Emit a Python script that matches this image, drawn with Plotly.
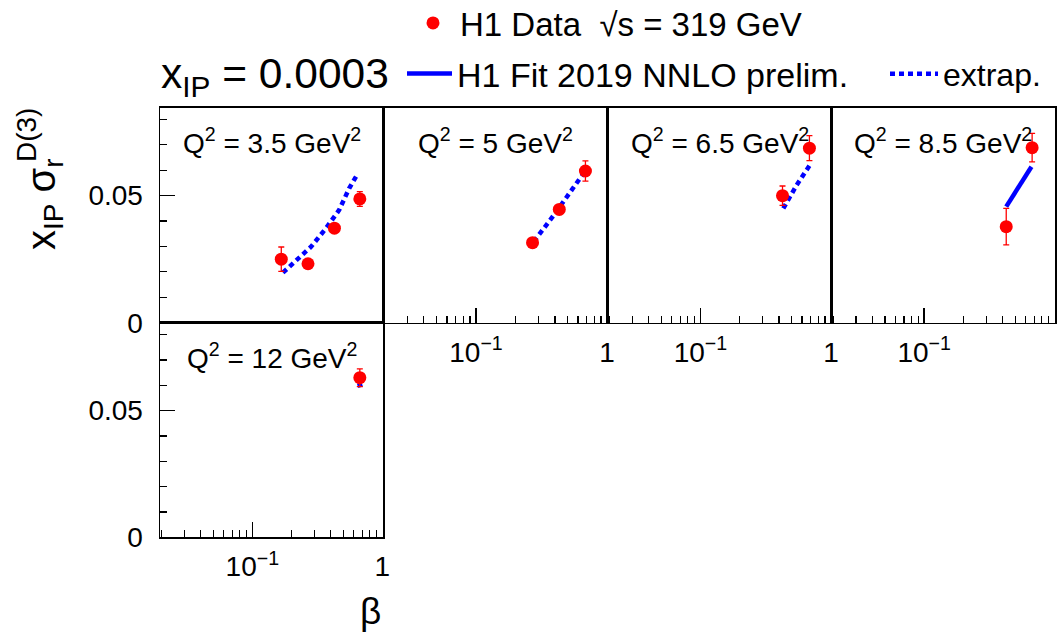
import plotly.graph_objects as go

# ---------------- data ----------------
q2_labels = ["Q<sup>2</sup> = 3.5 GeV<sup>2</sup>", "Q<sup>2</sup> = 5 GeV<sup>2</sup>",
             "Q<sup>2</sup> = 6.5 GeV<sup>2</sup>", "Q<sup>2</sup> = 8.5 GeV<sup>2</sup>",
             "Q<sup>2</sup> = 12 GeV<sup>2</sup>"]

# H1 data points (beta, x_IP sigma_r^D(3), total error)
beta_1 = [0.167, 0.268, 0.428, 0.671]
sig_1 = [0.0250, 0.0232, 0.0372, 0.0487]
err_1 = [0.0048, 0.0010, 0.0012, 0.0029]

beta_2 = [0.270, 0.432, 0.684]
sig_2 = [0.0315, 0.0446, 0.0597]
err_2 = [0.0010, 0.0013, 0.0040]

beta_3 = [0.425, 0.683]
sig_3 = [0.0500, 0.0687]
err_3 = [0.0038, 0.0049]

beta_4 = [0.427, 0.675]
sig_4 = [0.0378, 0.0689]
err_4 = [0.0072, 0.0056]

beta_5 = [0.671]
sig_5 = [0.0630]
err_5 = [0.0035]

# H1 Fit 2019 NNLO prelim. curves (solid = fit region, dashed = extrapolation)
fit_beta_1 = [0.172, 0.205, 0.244, 0.283, 0.369, 0.466, 0.556, 0.632]
fit_sig_1 = [0.0197, 0.0234, 0.0267, 0.0299, 0.0372, 0.0444, 0.0529, 0.0578]
fit_beta_2 = [0.276, 0.393, 0.648]
fit_sig_2 = [0.0319, 0.0424, 0.0581]
fit_beta_3 = [0.431, 0.546, 0.683]
fit_sig_3 = [0.0450, 0.0542, 0.0618]
fit_beta_4 = [0.427, 0.667]
fit_sig_4 = [0.0457, 0.0614]
fit_beta_5 = [0.645, 0.700]
fit_sig_5 = [0.0598, 0.0604]

x_major = [0.1, 1]
x_major_text = ["10<sup>\u22121</sup>", "1"]
x_minor = [0.02, 0.03, 0.04, 0.05, 0.06, 0.07, 0.08, 0.09,
           0.2, 0.3, 0.4, 0.5, 0.6, 0.7, 0.8, 0.9]
y_major = [0, 0.05]
y_major_text = ["0", "0.05"]
y_minor = [0.01, 0.02, 0.03, 0.04, 0.06, 0.07, 0.08]

# ---------------- layout geometry ----------------
W, H = 1062, 635
def px_x(v):
    return v / W
def px_y(v):
    return 1 - v / H

col_edges = [160, 383, 607.7, 831.7, 1055]
row_top = [107.5, 322.7]
row_bot = [322.7, 537.3]

FONT = "Liberation Sans, Arial, Helvetica, sans-serif"
RED = "#ff0000"
BLUE = "#0000ff"

fig = go.Figure()

panels = [
    (beta_1, sig_1, err_1, fit_beta_1, fit_sig_1, "dash"),
    (beta_2, sig_2, err_2, fit_beta_2, fit_sig_2, "dash"),
    (beta_3, sig_3, err_3, fit_beta_3, fit_sig_3, "dash"),
    (beta_4, sig_4, err_4, fit_beta_4, fit_sig_4, "solid"),
    (beta_5, sig_5, err_5, fit_beta_5, fit_sig_5, "dash"),
]

for i, (bx, by, be, fx, fy, style) in enumerate(panels):
    n = i + 1
    xa = "x" if n == 1 else f"x{n}"
    ya = "y" if n == 1 else f"y{n}"
    if style == "solid":
        name, show, leg = "H1 Fit 2019 NNLO prelim.", True, "legend2"
        dash = "solid"
    else:
        name, show, leg = "extrap.", (n == 1), "legend3"
        dash = "5px,4px"
    fig.add_trace(go.Scatter(
        x=fx, y=fy, mode="lines", xaxis=xa, yaxis=ya,
        line=dict(color=BLUE, width=4.5, dash=dash),
        name=name, showlegend=show, legend=leg,
        hoverinfo="skip"))
    fig.add_trace(go.Scatter(
        x=bx, y=by, mode="markers", xaxis=xa, yaxis=ya,
        marker=dict(color=RED, size=13, symbol="circle"),
        error_y=dict(type="data", array=be, visible=True, color=RED,
                     thickness=1.3, width=3),
        name="H1 Data  \u221As = 319 GeV", showlegend=(n == 1), legend="legend",
        hoverinfo="skip"))

layout = dict(
    width=W, height=H,
    margin=dict(l=0, r=0, t=0, b=0, autoexpand=False),
    template="none",
    paper_bgcolor="white", plot_bgcolor="white",
    font=dict(family=FONT, color="black", size=28),
    showlegend=True,
)

for i in range(5):
    n = i + 1
    if n <= 4:
        x0, x1 = col_edges[i], col_edges[i + 1]
        yt, yb = row_top[0], row_bot[0]
    else:
        x0, x1 = col_edges[0], col_edges[1]
        yt, yb = row_top[1], row_bot[1]
    show_x = n != 1
    show_y = n in (1, 5)
    xa = dict(
        domain=[px_x(x0), px_x(x1)], type="log", range=[-1.71, 0.005],
        anchor="y" if n == 1 else f"y{n}",
        showline=True, mirror=True, linecolor="black", linewidth=1.5,
        showgrid=False, zeroline=False, automargin=False,
        ticks="inside" if show_x else "", ticklen=15, tickwidth=1.3, tickcolor="black",
        tickmode="array", tickvals=x_major, ticktext=x_major_text,
        showticklabels=show_x, ticklabelstandoff=4,
        tickfont=dict(size=28, family=FONT, color="black"),
        minor=dict(tickmode="array", tickvals=x_minor, ticks="inside" if show_x else "",
                   ticklen=7, tickwidth=1.2, tickcolor="black", showgrid=False),
        fixedrange=True,
    )
    ya = dict(
        domain=[px_y(yb), px_y(yt)], range=[0, 0.0847],
        anchor="x" if n == 1 else f"x{n}",
        showline=True, mirror=True, linecolor="black", linewidth=1.5,
        showgrid=False, zeroline=False, automargin=False,
        ticks="inside" if show_y else "", ticklen=15, tickwidth=1.3, tickcolor="black",
        tickmode="array", tickvals=y_major, ticktext=y_major_text,
        showticklabels=show_y, ticklabelstandoff=10,
        tickfont=dict(size=28, family=FONT, color="black"),
        minor=dict(tickmode="array", tickvals=y_minor, ticks="inside" if show_y else "",
                   ticklen=7, tickwidth=1.2, tickcolor="black", showgrid=False),
        fixedrange=True,
    )
    layout["xaxis" if n == 1 else f"xaxis{n}"] = xa
    layout["yaxis" if n == 1 else f"yaxis{n}"] = ya

annotations = []
for i, lab in enumerate(q2_labels):
    n = i + 1
    annotations.append(dict(
        text=lab, xref=("x" if n == 1 else f"x{n}") + " domain",
        yref=("y" if n == 1 else f"y{n}") + " domain",
        x=0.5, y=0.845, xanchor="center", yanchor="middle", showarrow=False,
        font=dict(size=28, family=FONT, color="black")))

# header text x_IP = 0.0003
annotations.append(dict(
    text="x<sub>IP</sub> = 0.0003", xref="paper", yref="paper",
    x=px_x(159), y=px_y(76), xanchor="left", yanchor="middle", showarrow=False,
    font=dict(size=42.5, family=FONT, color="black")))

# y-axis title
annotations.append(dict(
    text="x<sub>IP</sub> \u03c3<sub>r</sub>", xref="paper", yref="paper",
    x=px_x(44), y=px_y(252), xanchor="center", yanchor="bottom", textangle=-90,
    showarrow=False, font=dict(size=40, family=FONT, color="black")))
annotations.append(dict(
    text="D(3)", xref="paper", yref="paper",
    x=px_x(26), y=px_y(106), xanchor="center", yanchor="top", textangle=-90,
    showarrow=False, font=dict(size=28, family=FONT, color="black")))

# x-axis title
annotations.append(dict(
    text="\u03b2", xref="paper", yref="paper",
    x=px_x(383), y=px_y(611), xanchor="right", yanchor="middle",
    showarrow=False, font=dict(size=37, family=FONT, color="black")))

layout["annotations"] = annotations

common_leg = dict(xanchor="left", yanchor="middle", bgcolor="rgba(0,0,0,0)",
                  borderwidth=0, orientation="v")
layout["legend"] = dict(x=px_x(406), y=px_y(23), itemwidth=44,
                        font=dict(size=33, family=FONT, color="black"), **common_leg)
layout["legend2"] = dict(x=px_x(402), y=px_y(74), itemwidth=45,
                         font=dict(size=34, family=FONT, color="black"), **common_leg)
layout["legend3"] = dict(x=px_x(885), y=px_y(74), itemwidth=48,
                         font=dict(size=32, family=FONT, color="black"), **common_leg)

fig.update_layout(**layout)

fig.write_html("out.html", post_script="document.body.style.margin='0';",
               config={"displayModeBar": False, "staticPlot": True})
